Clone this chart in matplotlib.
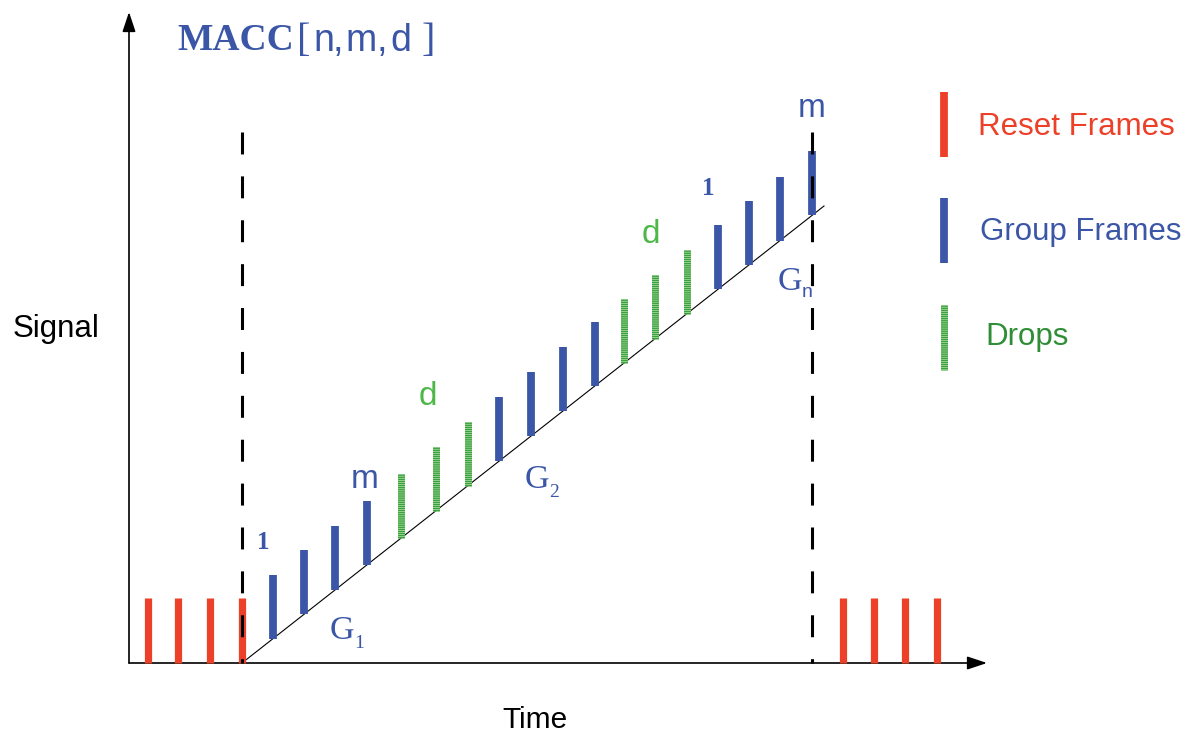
import matplotlib.pyplot as plt
import numpy as np

plt.rcParams["lines.scale_dashes"] = False

# colours
RED = "#EC4028"
BLUE = "#3B56A6"
GREEN = "#4DB848"
DROP_GREEN = "#3AA23A"
DROP_PALE = "#B8DFB2"
DARK_GREEN = "#2F8E35"

# geometry of the sketch, in image pixels (y grows downwards)
axis_origin = (129, 663)
x_axis_end = 987
y_axis_end = 12

reset_left_x = [148, 178, 210, 242]
reset_right_x = [843, 874, 905, 937]
reset_top = 598

# frames during the ramp: G = group frame, D = dropped frame
frame_kind = ["G"] * 4 + ["D"] * 3 + ["G"] * 4 + ["D"] * 3 + ["G"] * 4
frame_x = [273, 304, 335, 367, 401, 436, 468, 499, 531, 563, 595,
           624, 655, 687, 718, 749, 780, 812]
frame_len = 64

ramp_x = [242, 824]
ramp_y = [663, 206]

dash_x = [242, 812]
dash_top = 132

legend_labels = ["Reset Frames", "Group Frames", "Drops"]
legend_colors = [RED, BLUE, DARK_GREEN]
legend_bar_top = [92, 198, 305]
legend_text_base = [135, 240, 345]

title_chars = ["[", "n", ",", "m", ",", "d", "]"]
title_char_x = [297, 313, 333, 345, 377, 390, 422]

fig = plt.figure(figsize=(12, 7.36), dpi=100)
ax = fig.add_axes([0, 0, 1, 1])
ax.set_xlim(0, 1200)
ax.set_ylim(736, 0)
ax.axis("off")

# axes with arrows
ox, oy = axis_origin
arrow = dict(arrowstyle="-|>,head_length=1.2,head_width=0.4", color="black",
             lw=1.2, shrinkA=0, shrinkB=0)
ax.annotate("", xy=(x_axis_end, oy), xytext=(ox, oy), arrowprops=arrow)
ax.annotate("", xy=(ox, y_axis_end), xytext=(ox, oy), arrowprops=arrow)

# reset frames
ax.vlines(reset_left_x + reset_right_x, reset_top, oy, colors=RED,
          linewidth=5.2, capstyle="butt", zorder=3)

# ramp
ax.plot(ramp_x, ramp_y, color="black", linewidth=0.8, zorder=2)


def drop_bar(x, y0, y1):
    ax.vlines(x, y0, y1, colors=DROP_PALE, linewidth=5.0, capstyle="butt", zorder=3)
    ax.vlines(x, y0, y1, colors=DROP_GREEN, linewidth=5.0,
              linestyles=[(0, (1.0, 0.5))], capstyle="butt", zorder=3)


# group frames and drops
fx = np.array(frame_x, dtype=float)
bottoms = np.interp(fx, ramp_x, ramp_y)
kinds = np.array(frame_kind)
g = kinds == "G"
d = kinds == "D"
ax.vlines(fx[g], bottoms[g] - frame_len, bottoms[g], colors=BLUE,
          linewidth=5.6, capstyle="butt", zorder=3)
drop_bar(fx[d], bottoms[d] - frame_len, bottoms[d])

# reset boundaries
for x in dash_x:
    ax.plot([x, x], [dash_top, oy], color="black", linewidth=2.2,
            linestyle=(0, (15.8, 15.8)), dash_capstyle="butt", zorder=4)

# legend
for label, col, top, base in zip(legend_labels, legend_colors, legend_bar_top,
                                 legend_text_base):
    lx = 944
    if label == "Drops":
        drop_bar(lx, top, top + 65)
        tx = 985
    else:
        ax.vlines(lx, top, top + 65, colors=col, linewidth=5.6, capstyle="butt")
        tx = 978 if label == "Reset Frames" else 980
    ax.text(tx, base, label, color=col, fontsize=22.5, family="Liberation Sans",
            ha="left", va="baseline")

# titles and axis labels
ax.text(177, 50, "MACC", color=BLUE, fontsize=27, family="Liberation Serif",
        fontweight="bold", ha="left", va="baseline")
for ch, cx in zip(title_chars, title_char_x):
    fam = "Liberation Serif" if ch in "[]" else "Liberation Sans"
    size = 29 if ch in "[]" else 27
    ax.text(cx, 51, ch, color=BLUE, fontsize=size, family=fam,
            ha="left", va="baseline")
ax.text(13, 337, "Signal", color="black", fontsize=22.5, family="Liberation Sans",
        ha="left", va="baseline")
ax.text(535, 728, "Time", color="black", fontsize=21.5, family="Liberation Sans",
        ha="center", va="baseline")

# annotations on the ramp
serif = dict(color=BLUE, family="Liberation Serif", va="baseline")
sans_blue = dict(color=BLUE, family="Liberation Sans", va="baseline", ha="center",
                 fontsize=24)
sans_green = dict(color=GREEN, family="Liberation Sans", va="baseline", ha="center",
                  fontsize=24)

ax.text(257, 549, "1", fontsize=18, fontweight="bold", ha="left", **serif)
ax.text(702, 195, "1", fontsize=18, fontweight="bold", ha="left", **serif)
ax.text(365, 488, "m", **sans_blue)
ax.text(812, 117, "m", **sans_blue)
ax.text(428, 405, "d", **sans_green)
ax.text(651, 243, "d", **sans_green)

for gx, gy, sub in [(330, 639, "1"), (525, 488, "2"), (778, 290, "n")]:
    ax.text(gx, gy, "G", fontsize=24.5, ha="left", **serif)
    if sub == "n":
        ax.text(gx + 24, gy + 7, sub, fontsize=14, ha="left", color=BLUE,
                family="Liberation Sans", va="baseline")
    else:
        ax.text(gx + 24, gy + 9, sub, fontsize=14, ha="left", **serif)

fig.savefig("out.png", dpi=100, facecolor="white")
